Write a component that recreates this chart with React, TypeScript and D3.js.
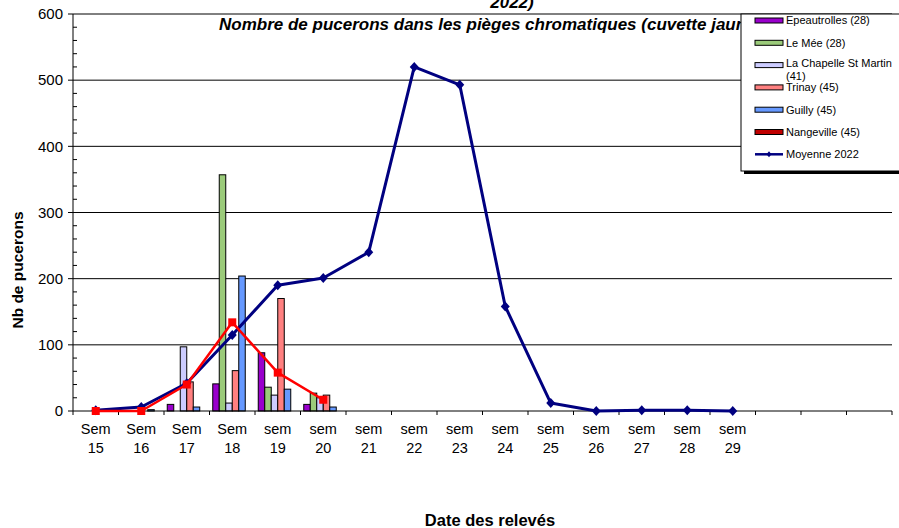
import React from 'react';
import * as d3 from 'd3';

// weeks on the x axis (last 3 slots are empty in the original sheet)
const weekTop = ['Sem', 'Sem', 'Sem', 'Sem', 'sem', 'sem', 'sem', 'sem', 'sem', 'sem', 'sem', 'sem', 'sem', 'sem', 'sem', '', '', ''];
const weekNum = ['15', '16', '17', '18', '19', '20', '21', '22', '23', '24', '25', '26', '27', '28', '29', '', '', ''];

// traps (bars), weeks 15 -> 20
const epeautrolles = [0, 0, 10, 41, 88, 10];
const leMee = [0, 0, 0, 357, 36, 27];
const chapelle = [0, 0, 97, 12, 24, 20];
const trinay = [0, 0, 44, 61, 170, 24];
const guilly = [0, 2, 6, 204, 33, 6];
const nangeville = [0, 0, 0, 0, 0, 0];

// lines
const moyenne2022 = [1, 6, 42, 115, 190, 201, 240, 520, 493, 158, 12, 0, 1, 1, 0];
const moyenneRouge = [0, 0, 40, 134, 58, 17];

const barSeries = [
  { name: 'Epeautrolles (28)', values: epeautrolles, color: '#9900CC' },
  { name: 'Le Mée (28)', values: leMee, color: '#9BCB7A' },
  { name: 'La Chapelle St Martin (41)', values: chapelle, color: '#CCCCFF' },
  { name: 'Trinay (45)', values: trinay, color: '#FF8080' },
  { name: 'Guilly (45)', values: guilly, color: '#6699FF' },
  { name: 'Nangeville (45)', values: nangeville, color: '#C00000' },
];

const yTicks = [0, 100, 200, 300, 400, 500, 600];

const W = 899;
const H = 528;
const m = { left: 73, right: 7, top: 14, bottom: 117 };
const font = '"Liberation Sans", Arial, sans-serif';

const App: React.FC = () => {
  const x = d3.scaleBand<number>()
    .domain(d3.range(weekNum.length))
    .range([m.left, W - m.right])
    .paddingInner(0)
    .paddingOuter(0);
  const y = d3.scaleLinear().domain([0, 600]).range([H - m.bottom, m.top]);
  const step = x.step();
  const bw = step / 7; // 6 bars + gap width 100%

  const blueLine = d3.line<number>()
    .x((_, i) => (x(i) || 0) + step / 2)
    .y(d => y(d));

  const minor = d3.range(0, 601, 20).filter(v => v % 100 !== 0);

  const legendRows = [
    ...barSeries.map(s => ({ name: s.name, color: s.color, line: false })),
    { name: 'Moyenne 2022', color: '#000080', line: true },
  ];

  return (
    <svg width={W} height={H} style={{ position: 'fixed', left: 0, top: 0, background: '#fff' }} fontFamily={font}>
      <rect width={W} height={H} fill="#fff" />

      {/* title, wrapped, second line clipped by the top */}
      <text x={512} y={8} fontSize={17} fontWeight="bold" fontStyle="italic" textAnchor="middle">2022)</text>
      <text x={219} y={30} fontSize={17} fontWeight="bold" fontStyle="italic">
        Nombre de pucerons dans les pièges chromatiques (cuvette jaune)
      </text>

      {/* grid */}
      {yTicks.filter(v => v > 0).map(v => (
        <line key={v} x1={m.left} x2={W - m.right} y1={y(v)} y2={y(v)} stroke="#000" strokeWidth={1} />
      ))}

      {/* y axis */}
      <line x1={m.left} x2={m.left} y1={y(600)} y2={y(0)} stroke="#000" />
      {yTicks.map(v => (
        <g key={v}>
          <line x1={m.left - 5} x2={m.left} y1={y(v)} y2={y(v)} stroke="#000" />
          <text x={m.left - 10} y={y(v)} dy="0.35em" fontSize={15} textAnchor="end">{v}</text>
        </g>
      ))}
      {minor.map(v => (
        <line key={v} x1={m.left} x2={m.left + 4} y1={y(v)} y2={y(v)} stroke="#000" />
      ))}

      {/* bars */}
      {barSeries.map((s, si) =>
        s.values.map((v, i) => v > 0 ? (
          <rect key={s.name + i}
            x={(x(i) || 0) + bw / 2 + si * bw}
            y={y(v)}
            width={bw}
            height={y(0) - y(v)}
            fill={s.color}
            stroke="#000"
            strokeWidth={1} />
        ) : null)
      )}

      {/* x axis */}
      <line x1={m.left} x2={W - m.right} y1={y(0)} y2={y(0)} stroke="#000" />
      {d3.range(weekNum.length + 1).map(i => (
        <line key={i} x1={m.left + i * step} x2={m.left + i * step} y1={y(0)} y2={y(0) + 4} stroke="#000" />
      ))}
      {weekNum.map((n, i) => (
        <g key={i} fontSize={14.5} textAnchor="middle">
          <text x={(x(i) || 0) + step / 2} y={434}>{weekTop[i]}</text>
          <text x={(x(i) || 0) + step / 2} y={453}>{n}</text>
        </g>
      ))}

      {/* lines */}
      <path d={blueLine(moyenne2022) || ''} fill="none" stroke="#000080" strokeWidth={3} strokeLinejoin="round" />
      {moyenne2022.map((v, i) => {
        const cx = (x(i) || 0) + step / 2;
        const cy = y(v);
        return <path key={i} d={`M${cx},${cy - 5}L${cx + 4.5},${cy}L${cx},${cy + 5}L${cx - 4.5},${cy}Z`} fill="#000080" />;
      })}
      <path d={blueLine(moyenneRouge) || ''} fill="none" stroke="#FF0000" strokeWidth={2.5} strokeLinejoin="round" />
      {moyenneRouge.map((v, i) => (
        <rect key={i} x={(x(i) || 0) + step / 2 - 4} y={y(v) - 4} width={8} height={8} fill="#FF0000" />
      ))}

      {/* axis titles */}
      <text transform={`translate(23,270) rotate(-90)`} fontSize={15.5} fontWeight="bold" textAnchor="middle">Nb de pucerons</text>
      <text x={490} y={526} fontSize={16.5} fontWeight="bold" textAnchor="middle">Date des relevés</text>

      {/* legend */}
      <rect x={744} y={17} width={170} height={157} fill="#000" />
      <rect x={741} y={14} width={170} height={157} fill="#fff" stroke="#000" />
      <svg x={741} y={14} width={170} height={157}>
        {legendRows.map((r, i) => {
          const cy = 6.5 + i * 22.3;
          return (
            <g key={r.name}>
              {r.line ? (
                <g>
                  <line x1={14} x2={42} y1={cy} y2={cy} stroke={r.color} strokeWidth={2.5} />
                  <path d={`M28,${cy - 3}L30.5,${cy}L28,${cy + 3}L25.5,${cy}Z`} fill={r.color} />
                </g>
              ) : (
                <rect x={14} y={cy - 2.5} width={28} height={5} fill={r.color} stroke="#000" strokeWidth={1} />
              )}
              {r.name.startsWith('La Chapelle') ? (
                <text x={45} y={cy - 2} fontSize={11} dy="0.35em">
                  <tspan x={45}>La Chapelle St Martin</tspan>
                  <tspan x={45} dy={13}>(41)</tspan>
                </text>
              ) : (
                <text x={45} y={cy} fontSize={11} dy="0.35em">{r.name}</text>
              )}
            </g>
          );
        })}
      </svg>
    </svg>
  );
};

export default App;
